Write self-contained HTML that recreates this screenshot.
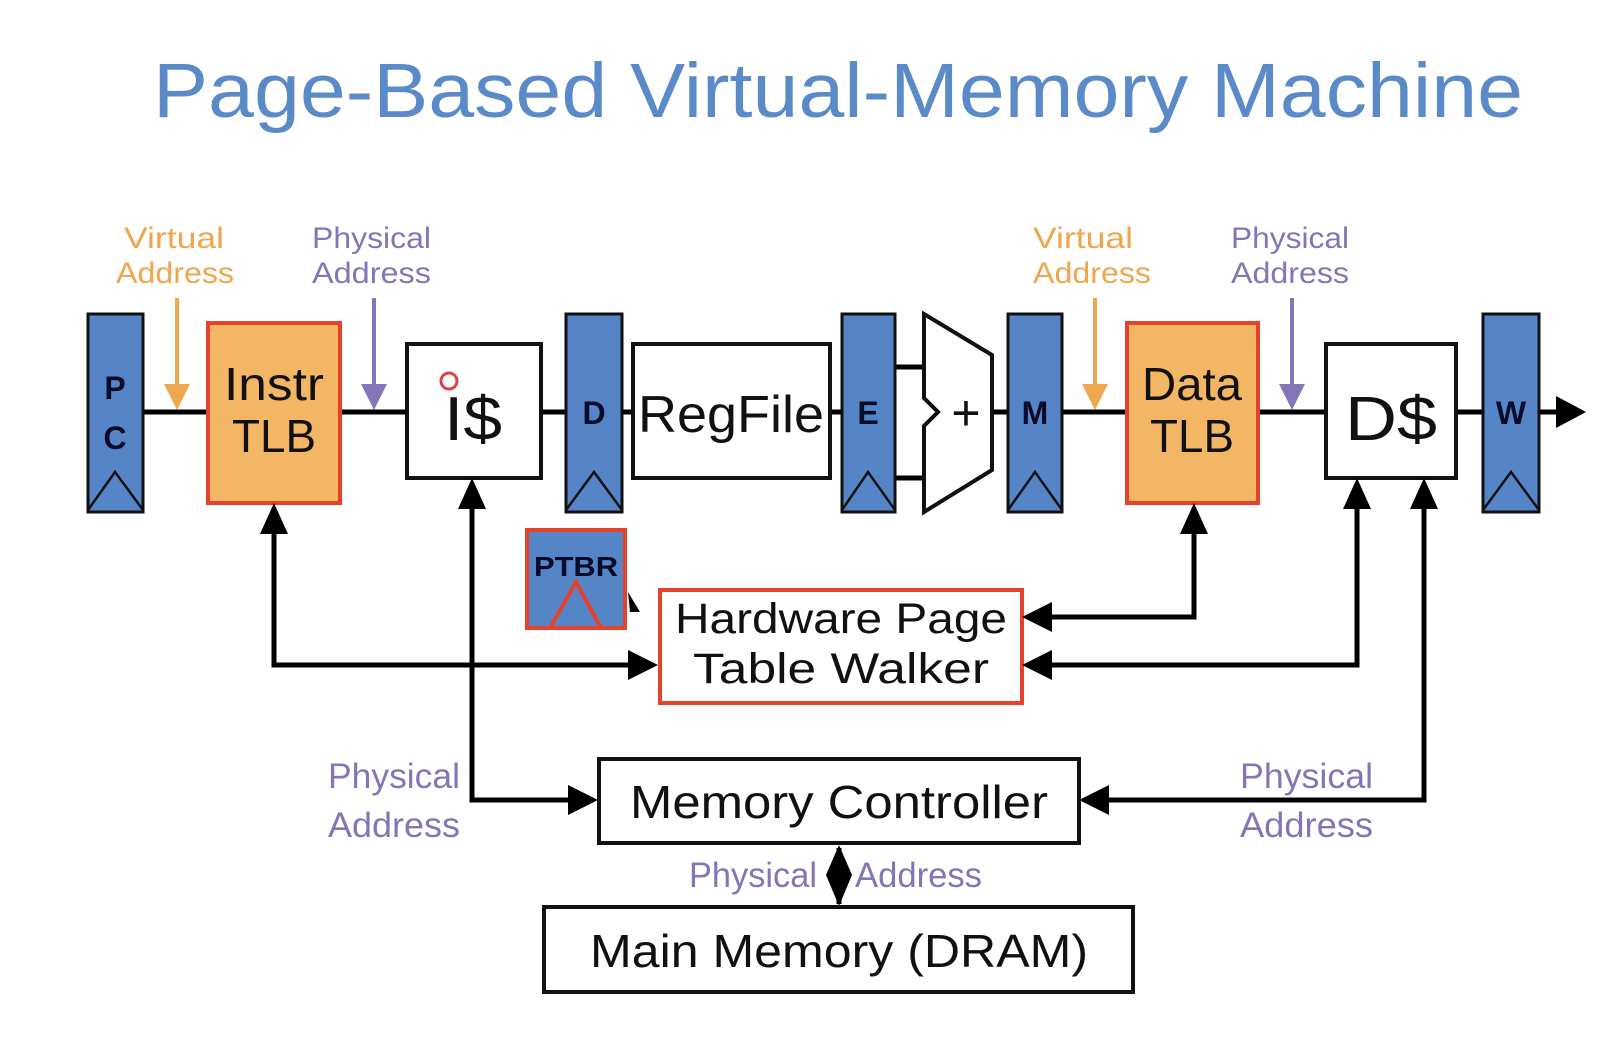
<!DOCTYPE html>
<html><head><meta charset="utf-8"><style>
html,body{margin:0;padding:0;background:#fff;}
svg{display:block;}
text{font-family:"Liberation Sans",sans-serif;}
</style></head><body>
<svg width="1622" height="1040" viewBox="0 0 1622 1040" xmlns="http://www.w3.org/2000/svg">
<text x="153" y="117" font-size="77" fill="#5a8ac8" textLength="1370" lengthAdjust="spacingAndGlyphs">Page-Based Virtual-Memory Machine</text>

<g font-size="30">
<text x="124" y="248" fill="#eea64f" textLength="100" lengthAdjust="spacingAndGlyphs">Virtual</text>
<text x="116" y="283" fill="#eea64f" textLength="118" lengthAdjust="spacingAndGlyphs">Address</text>
<text x="312" y="248" fill="#8474b8" textLength="119" lengthAdjust="spacingAndGlyphs">Physical</text>
<text x="312" y="283" fill="#8474b8" textLength="119" lengthAdjust="spacingAndGlyphs">Address</text>
<text x="1033" y="248" fill="#eea64f" textLength="100" lengthAdjust="spacingAndGlyphs">Virtual</text>
<text x="1033" y="283" fill="#eea64f" textLength="118" lengthAdjust="spacingAndGlyphs">Address</text>
<text x="1231" y="248" fill="#8474b8" textLength="118" lengthAdjust="spacingAndGlyphs">Physical</text>
<text x="1231" y="283" fill="#8474b8" textLength="118" lengthAdjust="spacingAndGlyphs">Address</text>
</g>
<g stroke-width="4">
<line x1="177" y1="298" x2="177" y2="390" stroke="#eea64f"/><path d="M164,384 L190,384 L177,410 z" fill="#eea64f"/>
<line x1="374" y1="298" x2="374" y2="390" stroke="#8474b8"/><path d="M361,384 L387,384 L374,410 z" fill="#8474b8"/>
<line x1="1095" y1="298" x2="1095" y2="390" stroke="#eea64f"/><path d="M1082,384 L1108,384 L1095,410 z" fill="#eea64f"/>
<line x1="1292" y1="298" x2="1292" y2="390" stroke="#8474b8"/><path d="M1279,384 L1305,384 L1292,410 z" fill="#8474b8"/>
</g>

<g stroke="#000" stroke-width="5">
<line x1="143" y1="412" x2="207" y2="412"/>
<line x1="340" y1="412" x2="406" y2="412"/>
<line x1="541" y1="412" x2="566" y2="412"/>
<line x1="622" y1="412" x2="632" y2="412"/>
<line x1="830" y1="412" x2="842" y2="412"/>
<line x1="895" y1="367" x2="924" y2="367"/>
<line x1="895" y1="478" x2="924" y2="478"/>
<line x1="993" y1="412" x2="1008" y2="412"/>
<line x1="1062" y1="412" x2="1126" y2="412"/>
<line x1="1258" y1="412" x2="1325" y2="412"/>
<line x1="1456" y1="412" x2="1483" y2="412"/>
<line x1="1539" y1="412" x2="1562" y2="412"/>
</g>
<path d="M1556,396 L1586,412 L1556,428 z" fill="#000"/>

<g stroke="#111" stroke-width="3" fill="#5585c6">
<rect x="88" y="314" width="55" height="198"/>
<rect x="566" y="314" width="56" height="198"/>
<rect x="842" y="314" width="53" height="198"/>
<rect x="1008" y="314" width="54" height="198"/>
<rect x="1483" y="314" width="56" height="198"/>
</g>
<g stroke="#111" stroke-width="2.5" fill="none">
<path d="M88,510 L115,472 L143,510"/>
<path d="M566,510 L594,472 L622,510"/>
<path d="M842,510 L868,472 L895,510"/>
<path d="M1008,510 L1035,472 L1062,510"/>
<path d="M1483,510 L1511,472 L1539,510"/>
</g>
<g font-size="32" font-weight="bold" fill="#0a0a2a" text-anchor="middle">
<text x="115" y="399">P</text>
<text x="115" y="449">C</text>
<text x="594" y="424">D</text>
<text x="868" y="424">E</text>
<text x="1035" y="424">M</text>
<text x="1511" y="424">W</text>
</g>

<rect x="208" y="323" width="132" height="180" fill="#f3b664" stroke="#e6412a" stroke-width="4"/>
<rect x="1127" y="323" width="131" height="180" fill="#f3b664" stroke="#e6412a" stroke-width="4"/>
<g font-size="46" text-anchor="middle" fill="#111">
<text x="274" y="400" textLength="100" lengthAdjust="spacingAndGlyphs">Instr</text>
<text x="274" y="452" textLength="84" lengthAdjust="spacingAndGlyphs">TLB</text>
<text x="1192" y="400" textLength="100" lengthAdjust="spacingAndGlyphs">Data</text>
<text x="1192" y="452" textLength="84" lengthAdjust="spacingAndGlyphs">TLB</text>
</g>

<g fill="#fff" stroke="#111" stroke-width="4">
<rect x="407" y="344" width="134" height="134"/>
<rect x="633" y="344" width="197" height="134"/>
<rect x="1326" y="344" width="130" height="134"/>
</g>
<g text-anchor="middle" fill="#111">
<text x="473" y="440" font-size="62" textLength="58" lengthAdjust="spacingAndGlyphs">I$</text>
<text x="731" y="432" font-size="52" textLength="186" lengthAdjust="spacingAndGlyphs">RegFile</text>
<text x="1391" y="440" font-size="62" textLength="92" lengthAdjust="spacingAndGlyphs">D$</text>
</g>
<circle cx="449" cy="381" r="8" fill="none" stroke="#e04040" stroke-width="3"/>

<path d="M924,314 L992,355 L992,470 L924,512 L924,426 L938,412 L924,398 z" fill="#fff" stroke="#111" stroke-width="4"/>
<text x="966" y="430" font-size="50" text-anchor="middle" fill="#111">+</text>

<rect x="527" y="530" width="98" height="98" fill="#5585c6" stroke="#e6412a" stroke-width="4"/>
<text x="576" y="576" font-size="28" font-weight="bold" fill="#0a0a2a" text-anchor="middle" textLength="84" lengthAdjust="spacingAndGlyphs">PTBR</text>
<path d="M550,628 L576,582 L601,628" fill="none" stroke="#e6412a" stroke-width="4"/>
<path d="M628,592 L640,612 L630,612 z" fill="#000"/>

<rect x="660" y="590" width="362" height="113" fill="#fff" stroke="#e6412a" stroke-width="4"/>
<g font-size="43" text-anchor="middle" fill="#111">
<text x="841" y="633" textLength="332" lengthAdjust="spacingAndGlyphs">Hardware Page</text>
<text x="841" y="683" textLength="296" lengthAdjust="spacingAndGlyphs">Table Walker</text>
</g>

<g stroke="#000" stroke-width="5" fill="none">
<polyline points="274,530 274,665 630,665"/>
<polyline points="472,505 472,800 570,800"/>
<polyline points="1194,530 1194,617 1050,617"/>
<polyline points="1357,505 1357,665 1050,665"/>
<polyline points="1424,505 1424,800 1107,800"/>
<line x1="839" y1="848" x2="839" y2="904"/>
</g>
<g fill="#000">
<path d="M260,534 L274,503 L288,534 z"/>
<path d="M628,650 L658,665 L628,680 z"/>
<path d="M458,509 L472,478 L486,509 z"/>
<path d="M568,785 L598,800 L568,815 z"/>
<path d="M1180,534 L1194,503 L1208,534 z"/>
<path d="M1052,602 L1022,617 L1052,632 z"/>
<path d="M1343,509 L1357,478 L1371,509 z"/>
<path d="M1052,650 L1022,665 L1052,680 z"/>
<path d="M1410,509 L1424,478 L1438,509 z"/>
<path d="M1109,785 L1079,800 L1109,815 z"/>
<path d="M839,845 L852,875 L839,906 L826,875 z"/>
</g>

<rect x="599" y="759" width="480" height="84" fill="#fff" stroke="#111" stroke-width="4"/>
<text x="839" y="818" font-size="46" text-anchor="middle" fill="#111" textLength="418" lengthAdjust="spacingAndGlyphs">Memory Controller</text>
<rect x="544" y="907" width="589" height="85" fill="#fff" stroke="#111" stroke-width="4"/>
<text x="839" y="967" font-size="46" text-anchor="middle" fill="#111" textLength="498" lengthAdjust="spacingAndGlyphs">Main Memory (DRAM)</text>

<g font-size="35" fill="#8474b8">
<text x="328" y="788" textLength="132" lengthAdjust="spacingAndGlyphs">Physical</text>
<text x="328" y="837" textLength="132" lengthAdjust="spacingAndGlyphs">Address</text>
<text x="1240" y="788" textLength="133" lengthAdjust="spacingAndGlyphs">Physical</text>
<text x="1240" y="837" textLength="133" lengthAdjust="spacingAndGlyphs">Address</text>
<text x="689" y="887" textLength="128" lengthAdjust="spacingAndGlyphs">Physical</text>
<text x="855" y="887" textLength="127" lengthAdjust="spacingAndGlyphs">Address</text>
</g>
</svg>
</body></html>
